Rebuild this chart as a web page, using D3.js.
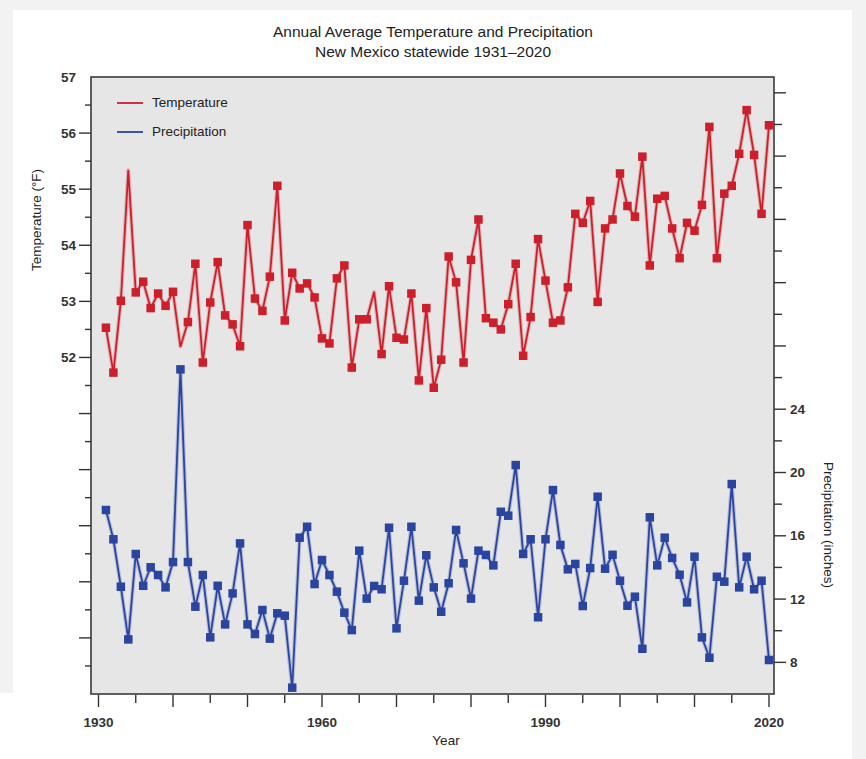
<!DOCTYPE html>
<html>
<head>
<meta charset="utf-8">
<script src="https://cdn.jsdelivr.net/npm/d3@7"></script>
<style>
  html, body { margin: 0; padding: 0; background: #f2f2f2; }
  svg { display: block; }
  text { font-family: "Liberation Sans", Arial, Helvetica, sans-serif; fill: #222; }
</style>
</head>
<body>
<svg id="chart" width="866" height="759"></svg>
<script>
// ---------------- data ----------------
const years = d3.range(1931, 2021);

const temperature = [
  52.53, 51.73, 53.01, 55.34, 53.16, 53.35, 52.88, 53.14, 52.92, 53.17,
  52.19, 52.63, 53.67, 51.91, 52.98, 53.70, 52.75, 52.59, 52.20, 54.36,
  53.05, 52.83, 53.44, 55.06, 52.66, 53.51, 53.23, 53.32, 53.07, 52.34,
  52.25, 53.41, 53.64, 51.82, 52.68, 52.68, 53.17, 52.06, 53.27, 52.35,
  52.32, 53.14, 51.59, 52.88, 51.46, 51.96, 53.80, 53.34, 51.91, 53.74,
  54.46, 52.70, 52.62, 52.50, 52.95, 53.67, 52.03, 52.72, 54.11, 53.37,
  52.62, 52.66, 53.25, 54.56, 54.40, 54.79, 52.99, 54.30, 54.46, 55.28,
  54.70, 54.51, 55.58, 53.64, 54.83, 54.88, 54.30, 53.77, 54.40, 54.26,
  54.72, 56.11, 53.77, 54.92, 55.06, 55.63, 56.41, 55.61, 54.56, 56.14
];

const precipitation = [
  17.63, 15.78, 12.78, 9.45, 14.85, 12.84, 14.01, 13.52, 12.74, 14.34,
  26.52, 14.34, 11.52, 13.52, 9.58, 12.84, 10.40, 12.36, 15.52, 10.40,
  9.79, 11.31, 9.50, 11.10, 10.95, 6.40, 15.88, 16.57, 12.95, 14.47,
  13.52, 12.47, 11.14, 10.04, 15.06, 12.03, 12.83, 12.62, 16.51, 10.15,
  13.16, 16.57, 11.90, 14.77, 12.74, 11.20, 13.00, 16.37, 14.26, 12.03,
  15.06, 14.79, 14.13, 17.52, 17.27, 20.47, 14.85, 15.78, 10.85, 15.78,
  18.89, 15.42, 13.88, 14.22, 11.56, 13.96, 18.47, 13.92, 14.80, 13.16,
  11.58, 12.15, 8.86, 17.17, 14.13, 15.88, 14.60, 13.54, 11.79, 14.68,
  9.58, 8.29, 13.41, 13.10, 19.27, 12.74, 14.68, 12.62, 13.16, 8.15
];

// years whose temperature point is drawn without a square marker
const tempNoMarker = [1934, 1941, 1967];

const tempLabelTicks = [52, 53, 54, 55, 56, 57];
const precipLabelTicks = [8, 12, 16, 20, 24];
const yearLabelTicks = [1930, 1960, 1990, 2020];

const titleLines = ["Annual Average Temperature and Precipitation", "New Mexico statewide 1931\u20132020"];
const seriesNames = ["Temperature", "Precipitation"];
const colors = { temp: "#cc1f2a", precip: "#2a45a0" };

// ---------------- layout ----------------
const frame = { left: 91, right: 774, top: 77, bottom: 694 };

const svg = d3.select("#chart");

// backgrounds
svg.append("rect").attr("x", 0).attr("y", 0).attr("width", 866).attr("height", 759).attr("fill", "#f2f2f2");
svg.append("rect").attr("x", 13).attr("y", 10).attr("width", 839).attr("height", 749).attr("fill", "#ffffff");
svg.append("rect").attr("x", 0).attr("y", 693).attr("width", 13).attr("height", 66).attr("fill", "#ffffff");

// scales
const x = d3.scaleLinear().domain([1930, 2020]).range([98.5, 769]);
const yT = d3.scaleLinear().domain([46, 57]).range([frame.bottom, frame.top]);
const yP = d3.scaleLinear().domain([6, 45]).range([frame.bottom, frame.top]);

// plot area
svg.append("rect")
  .attr("x", frame.left).attr("y", frame.top)
  .attr("width", frame.right - frame.left).attr("height", frame.bottom - frame.top)
  .attr("fill", "#e6e6e6").attr("stroke", "#3a3a3a").attr("stroke-width", 1.6);

const axisColor = "#333";

// left axis ticks
const leftTicks = d3.range(46.5, 57, 0.5);
svg.append("g").selectAll("line").data(leftTicks).join("line")
  .attr("x1", d => frame.left - (Number.isInteger(d) ? 12 : 6))
  .attr("x2", frame.left)
  .attr("y1", d => yT(d)).attr("y2", d => yT(d))
  .attr("stroke", axisColor).attr("stroke-width", 1.4);
svg.append("g").selectAll("text").data(tempLabelTicks).join("text")
  .attr("x", 76).attr("y", d => yT(d) + 1)
  .attr("text-anchor", "end").attr("dominant-baseline", "middle")
  .attr("font-size", 13.5).attr("font-weight", "bold").style("fill", "#333")
  .text(d => d);

// right axis ticks
const rightTicks = d3.range(8, 45, 2);
svg.append("g").selectAll("line").data(rightTicks).join("line")
  .attr("x1", frame.right)
  .attr("x2", d => frame.right + (d % 4 === 0 ? 12 : 8))
  .attr("y1", d => yP(d)).attr("y2", d => yP(d))
  .attr("stroke", axisColor).attr("stroke-width", 1.4);
svg.append("g").selectAll("text").data(precipLabelTicks).join("text")
  .attr("x", 790).attr("y", d => yP(d) + 1)
  .attr("text-anchor", "start").attr("dominant-baseline", "middle")
  .attr("font-size", 13.5).attr("font-weight", "bold").style("fill", "#333")
  .text(d => d);

// bottom axis ticks
const bottomTicks = d3.range(1930, 2021, 5);
svg.append("g").selectAll("line").data(bottomTicks).join("line")
  .attr("x1", d => x(d)).attr("x2", d => x(d))
  .attr("y1", frame.bottom + 1)
  .attr("y2", d => frame.bottom + (d % 10 === 0 ? 13 : 9))
  .attr("stroke", axisColor).attr("stroke-width", 1.4);
svg.append("g").selectAll("text").data(yearLabelTicks).join("text")
  .attr("x", d => x(d)).attr("y", 727)
  .attr("text-anchor", "middle")
  .attr("font-size", 13.5).attr("font-weight", "bold").style("fill", "#333")
  .text(d => d);

// axis titles
svg.append("text").attr("x", 446).attr("y", 745).attr("text-anchor", "middle")
  .attr("font-size", 13.5).text("Year");
svg.append("text").attr("transform", "translate(41,220) rotate(-90)")
  .attr("text-anchor", "middle").attr("font-size", 13.5).text("Temperature (\u00B0F)");
svg.append("text").attr("transform", "translate(824,525) rotate(90)")
  .attr("text-anchor", "middle").attr("font-size", 13.5).text("Precipitation (inches)");

// title
svg.append("g").selectAll("text").data(titleLines).join("text")
  .attr("x", 433).attr("y", (d, i) => 37 + i * 20)
  .attr("text-anchor", "middle").attr("font-size", 15.5)
  .text(d => d);

// series
const tData = years.map((yr, i) => ({ yr, v: temperature[i] }));
const pData = years.map((yr, i) => ({ yr, v: precipitation[i] }));

function drawSeries(data, yScale, color, markerFilter) {
  const line = d3.line().x(d => x(d.yr)).y(d => yScale(d.v));
  const g = svg.append("g");
  g.append("path").datum(data).attr("d", line)
    .attr("fill", "none").attr("stroke", color).attr("stroke-opacity", 0.25)
    .attr("stroke-width", 4).attr("stroke-linejoin", "round");
  g.append("path").datum(data).attr("d", line)
    .attr("fill", "none").attr("stroke", color).attr("stroke-width", 1.8)
    .attr("stroke-linejoin", "miter");
  const s = 8.5;
  g.selectAll("rect").data(data.filter(markerFilter)).join("rect")
    .attr("x", d => x(d.yr) - s / 2).attr("y", d => yScale(d.v) - s / 2)
    .attr("width", s).attr("height", s).attr("fill", color);
}

drawSeries(tData, yT, colors.temp, d => !tempNoMarker.includes(d.yr));
drawSeries(pData, yP, colors.precip, d => true);

// legend
const legend = svg.append("g");
[colors.temp, colors.precip].forEach((c, i) => {
  const ly = 103 + i * 29;
  legend.append("line").attr("x1", 117).attr("x2", 143).attr("y1", ly).attr("y2", ly)
    .attr("stroke", c).attr("stroke-width", 1.8);
  legend.append("text").attr("x", 152).attr("y", ly).attr("dominant-baseline", "middle")
    .attr("font-size", 13.5).text(seriesNames[i]);
});
</script>
</body>
</html>
